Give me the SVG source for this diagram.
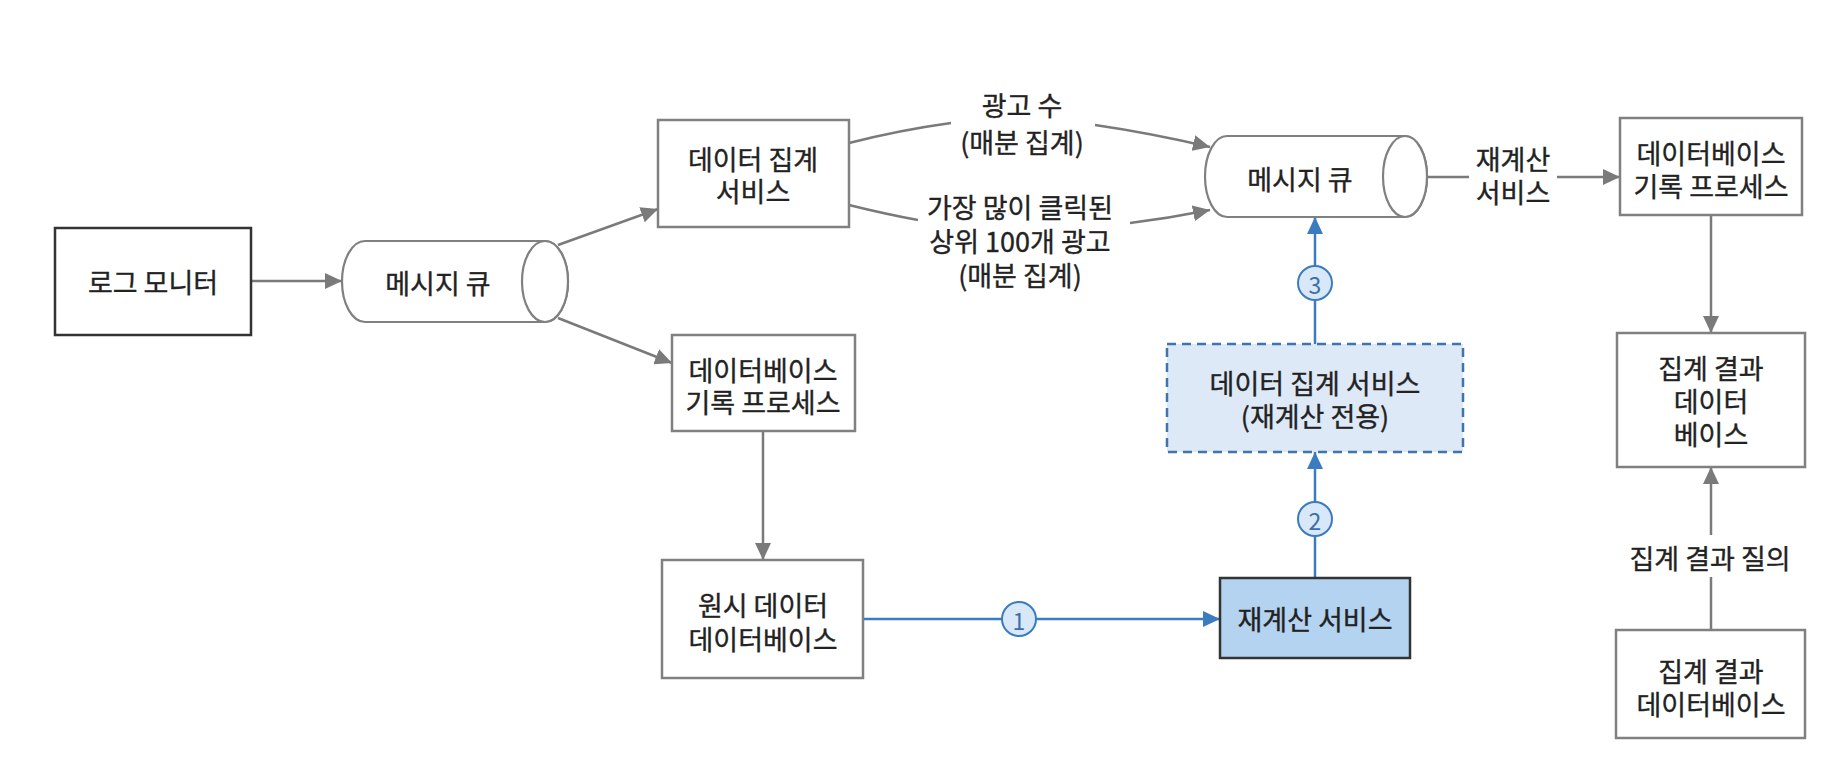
<svg xmlns="http://www.w3.org/2000/svg" width="1830" height="772" viewBox="0 0 1830 772">
<style>
text{font-family:"Noto Sans CJK KR","Noto Sans",sans-serif;font-size:27px;fill:#222;stroke:#222;stroke-width:0.35;text-anchor:middle;dominant-baseline:central}
.box{fill:#fff;stroke:#808080;stroke-width:2.5}
.dark{fill:#fff;stroke:#333;stroke-width:2.5}
.cyl{fill:#fff;stroke:#808080;stroke-width:2.2}
.con{fill:none;stroke:#7a7a7a;stroke-width:2.5}
.blue{fill:none;stroke:#3b7bbf;stroke-width:2.5}
.num{fill:#d9e8f8;stroke:#3b7bbf;stroke-width:2}
.numt{font-size:23px;fill:#3b6fa8;stroke:none}
</style>
<defs>
<marker id="ag" markerUnits="userSpaceOnUse" markerWidth="18" markerHeight="16" refX="17" refY="8" orient="auto"><path d="M0,0 L17,8 L0,16 Z" fill="#7a7a7a"/></marker>
<marker id="ab" markerUnits="userSpaceOnUse" markerWidth="18" markerHeight="16" refX="17" refY="8" orient="auto"><path d="M0,0 L17,8 L0,16 Z" fill="#3b7bbf"/></marker>
</defs>
<rect width="1830" height="772" fill="#fff"/>

<g id="connectors">
<line class="con" x1="251" y1="281" x2="342" y2="281" marker-end="url(#ag)"/>
<line class="con" x1="558" y1="245" x2="658" y2="209" marker-end="url(#ag)"/>
<line class="con" x1="558" y1="318" x2="672" y2="363" marker-end="url(#ag)"/>
<path class="con" d="M849,143 Q900,130 951,123"/>
<path class="con" d="M1095,125 Q1150,133 1210,147" marker-end="url(#ag)"/>
<path class="con" d="M849,205 Q885,214 918,220"/>
<path class="con" d="M1130,223 Q1170,218 1210,210" marker-end="url(#ag)"/>
<line class="con" x1="1427" y1="177" x2="1469" y2="177"/>
<line class="con" x1="1557" y1="177" x2="1620" y2="177" marker-end="url(#ag)"/>
<line class="con" x1="1711" y1="215" x2="1711" y2="333" marker-end="url(#ag)"/>
<line class="con" x1="1711" y1="630" x2="1711" y2="577"/>
<line class="con" x1="1711" y1="535" x2="1711" y2="467" marker-end="url(#ag)"/>
<line class="con" x1="763" y1="431" x2="763" y2="560" marker-end="url(#ag)"/>
<line class="blue" x1="863" y1="619" x2="1220" y2="619" marker-end="url(#ab)"/>
<line class="blue" x1="1315" y1="578" x2="1315" y2="452" marker-end="url(#ab)"/>
<line class="blue" x1="1315" y1="344" x2="1315" y2="217" marker-end="url(#ab)"/>
<circle class="num" cx="1019" cy="619" r="17"/><text class="numt" x="1019" y="620">1</text>
<circle class="num" cx="1315" cy="519" r="17"/><text class="numt" x="1315" y="520">2</text>
<circle class="num" cx="1315" cy="283" r="17"/><text class="numt" x="1315" y="284">3</text>
<text><tspan x="1022" y="104">광고 수</tspan><tspan x="1022" y="141">(매분 집계)</tspan></text>
<text><tspan x="1020" y="206">가장 많이 클릭된</tspan><tspan x="1020" y="240">상위 100개 광고</tspan><tspan x="1020" y="274">(매분 집계)</tspan></text>
<text><tspan x="1513" y="158">재계산</tspan><tspan x="1513" y="191">서비스</tspan></text>
<text x="1710" y="557">집계 결과 질의</text>
</g>

<g id="log-monitor">
<rect class="dark" x="55" y="228" width="196" height="107"/>
<text x="153" y="281">로그 모니터</text>
</g>

<g id="queue1">
<path class="cyl" d="M365,241 H545 A23,40.5 0 0 1 545,322 H365 A23,40.5 0 0 1 365,241 Z"/>
<ellipse class="cyl" cx="545" cy="281.5" rx="23" ry="40.5"/>
<text x="438" y="282">메시지 큐</text>
</g>

<g id="agg-service">
<rect class="box" x="658" y="120" width="191" height="107"/>
<text><tspan x="753" y="158">데이터 집계</tspan><tspan x="753" y="190">서비스</tspan></text>
</g>

<g id="db-writer-left">
<rect class="box" x="672" y="335" width="183" height="96"/>
<text><tspan x="763" y="369">데이터베이스</tspan><tspan x="763" y="401">기록 프로세스</tspan></text>
</g>

<g id="raw-db">
<rect class="box" x="662" y="560" width="201" height="118"/>
<text><tspan x="763" y="604">원시 데이터</tspan><tspan x="763" y="638">데이터베이스</tspan></text>
</g>

<g id="recalc-service">
<rect x="1220" y="578" width="190" height="80" fill="#b3d3f0" stroke="#333" stroke-width="2.5"/>
<text x="1315" y="618">재계산 서비스</text>
</g>

<g id="agg-recalc">
<rect x="1167" y="344" width="296" height="108" fill="#dde9f7" stroke="#3f74ad" stroke-width="2.5" stroke-dasharray="9,6"/>
<text><tspan x="1315" y="382">데이터 집계 서비스</tspan><tspan x="1315" y="415">(재계산 전용)</tspan></text>
</g>

<g id="queue2">
<path class="cyl" d="M1227,136 H1405 A22,40.5 0 0 1 1405,217 H1227 A22,40.5 0 0 1 1227,136 Z"/>
<ellipse class="cyl" cx="1405" cy="176.5" rx="22" ry="40.5"/>
<text x="1300" y="178">메시지 큐</text>
</g>

<g id="db-writer-right">
<rect class="box" x="1620" y="118" width="182" height="97"/>
<text><tspan x="1711" y="152">데이터베이스</tspan><tspan x="1711" y="185">기록 프로세스</tspan></text>
</g>

<g id="agg-result-db">
<rect class="box" x="1617" y="333" width="188" height="134"/>
<text><tspan x="1711" y="367">집계 결과</tspan><tspan x="1711" y="400">데이터</tspan><tspan x="1711" y="433">베이스</tspan></text>
</g>

<g id="agg-result-db2">
<rect class="box" x="1616" y="630" width="189" height="108"/>
<text><tspan x="1711" y="670">집계 결과</tspan><tspan x="1711" y="703">데이터베이스</tspan></text>
</g>
</svg>
